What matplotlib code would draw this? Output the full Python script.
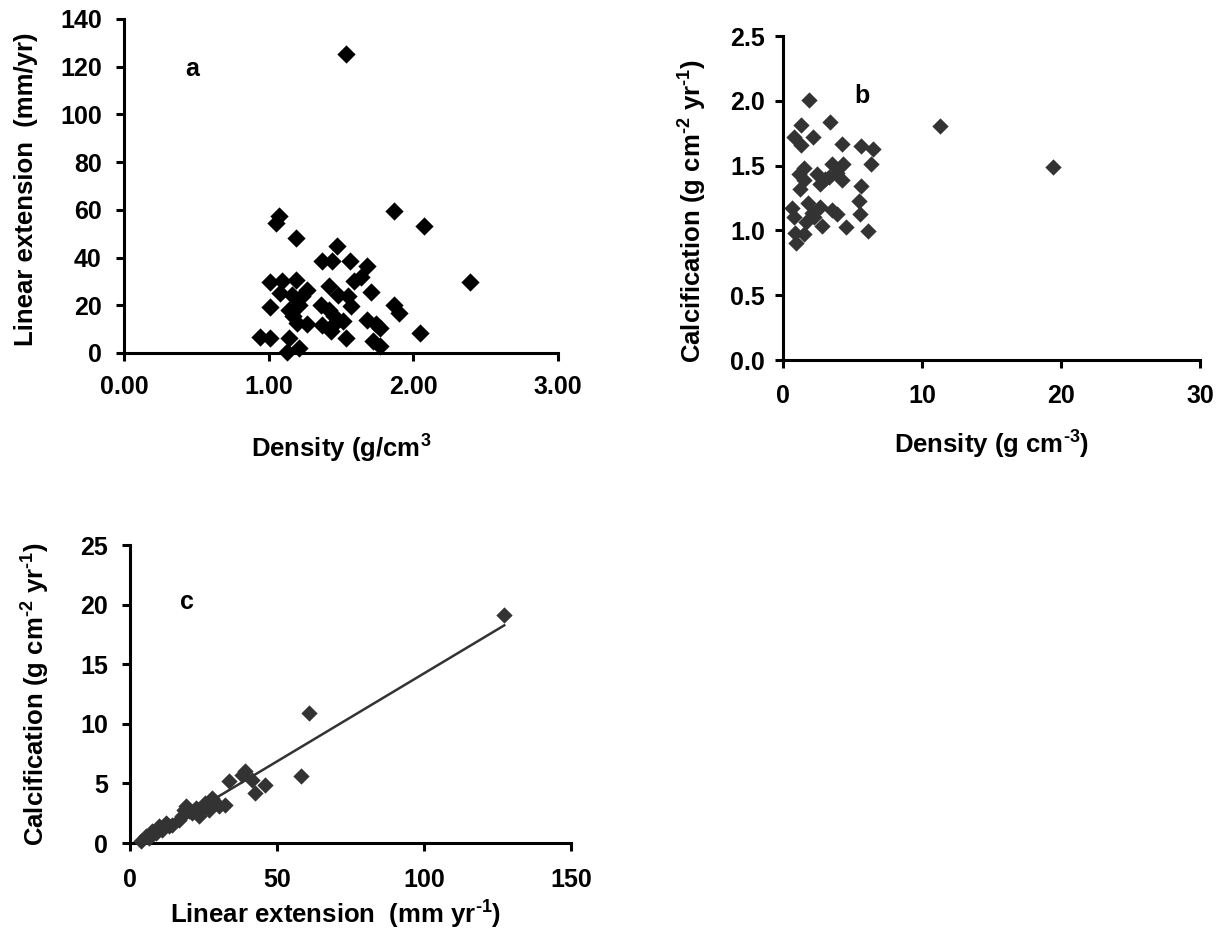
import numpy as np
import matplotlib
matplotlib.use("Agg")
import matplotlib.pyplot as plt

plt.rcParams['font.family'] = ['Liberation Sans', 'DejaVu Sans']
plt.rcParams['font.weight'] = 'bold'
plt.rcParams['mathtext.fontset'] = 'custom'
plt.rcParams['mathtext.rm'] = 'Liberation Sans:bold'
plt.rcParams['mathtext.it'] = 'Liberation Sans:bold'
plt.rcParams['mathtext.bf'] = 'Liberation Sans:bold'
plt.rcParams['mathtext.default'] = 'regular'

# ---- Panel a: density vs linear extension ----
a_density = [1.535, 1.07, 1.054, 1.186, 1.867, 2.074, 1.472, 1.372, 1.435, 1.565,
             1.679, 2.395, 1.008, 1.093, 1.186, 1.267, 1.08, 1.163, 1.233, 1.418,
             1.477, 1.547, 1.593, 1.64, 1.708, 1.008, 1.141, 1.21, 1.36, 1.418,
             1.57, 1.867, 1.9, 1.193, 1.263, 1.372, 1.442, 1.512, 1.682, 1.745,
             1.768, 0.942, 1.008, 1.141, 1.43, 1.535, 2.046, 1.721, 1.768, 1.21,
             1.124, 1.454, 1.17]
a_extension = [125.5, 57.3, 54.3, 48.3, 59.4, 53.4, 44.8, 38.7, 38.7, 38.5,
               36.6, 29.8, 29.8, 30.0, 30.8, 26.6, 25.2, 24.5, 23.8, 28.0,
               24.5, 23.8, 30.0, 32.0, 25.5, 19.3, 18.2, 20.3, 20.3, 18.2,
               19.9, 20.3, 16.8, 12.6, 12.3, 11.9, 11.9, 13.3, 14.0, 12.3,
               10.5, 6.7, 6.3, 6.3, 9.1, 6.3, 8.4, 4.9, 2.8, 2.1,
               0.3, 15.4, 15.4]

# ---- Panel b: density vs calcification ----
b_density = [1.9, 11.33, 19.44, 1.3, 3.4, 0.82, 2.16, 1.3, 4.25, 5.6,
             6.48, 6.34, 1.49, 3.53, 4.32, 1.13, 2.45, 3.05, 3.89, 4.25,
             1.49, 2.69, 1.2, 5.6, 5.44, 1.78, 2.69, 3.53, 3.89, 0.65,
             0.77, 2.09, 1.68, 2.81, 4.56, 5.52, 6.1, 0.89, 1.49, 0.96,
             2.2, 3.29]
b_calcification = [2.005, 1.805, 1.486, 1.81, 1.84, 1.72, 1.72, 1.66, 1.666, 1.65,
                   1.63, 1.51, 1.48, 1.51, 1.51, 1.434, 1.434, 1.40, 1.44, 1.39,
                   1.39, 1.36, 1.32, 1.345, 1.23, 1.21, 1.18, 1.16, 1.13, 1.17,
                   1.10, 1.136, 1.067, 1.033, 1.028, 1.126, 0.997, 0.977, 0.972, 0.905,
                   1.105, 1.414]

# ---- Panel c: linear extension vs calcification ----
c_extension = [127.3, 61.0, 58.2, 39.2, 41.5, 46.0, 42.6, 33.6, 32.4, 27.9,
               25.6, 23.4, 18.9, 21.1, 30.2, 16.6, 12.1, 9.8, 7.6, 5.3,
               3.6, 14.4, 8.7, 26.8, 24.5, 29.0, 20.0, 17.7, 13.2, 11.0,
               6.4, 22.3, 18.3, 38.1]
c_calcification = [19.1, 10.9, 5.59, 6.0, 5.3, 4.9, 4.2, 5.17, 3.2, 3.77,
                   3.35, 2.23, 3.07, 2.5, 3.07, 1.96, 1.68, 1.4, 0.98, 0.56,
                   0.14, 1.54, 0.84, 2.79, 2.8, 3.35, 2.65, 2.23, 1.4, 1.12,
                   0.42, 2.93, 2.8, 5.7]

a_xticks = [0, 1, 2, 3]
a_xticklabels = ['0.00', '1.00', '2.00', '3.00']
a_yticks = [0, 20, 40, 60, 80, 100, 120, 140]
b_xticks = [0, 10, 20, 30]
b_yticks = [0.0, 0.5, 1.0, 1.5, 2.0, 2.5]
b_yticklabels = ['0.0', '0.5', '1.0', '1.5', '2.0', '2.5']
c_xticks = [0, 50, 100, 150]
c_yticks = [0, 5, 10, 15, 20, 25]

W, H = 1223, 946
fig = plt.figure(figsize=(W / 100, H / 100), dpi=100)


def px_axes(x0, x1, ytop, ybot):
    return fig.add_axes([x0 / W, 1 - ybot / H, (x1 - x0) / W, (ybot - ytop) / H])


TICK_FS = 18
LABEL_FS = 18.5


def style(ax, xpad, ypad):
    for s in ('top', 'right'):
        ax.spines[s].set_visible(False)
    for s in ('left', 'bottom'):
        ax.spines[s].set_linewidth(2.2)
        ax.spines[s].set_color('black')
    ax.tick_params(axis='both', direction='out', length=6, width=2.2, labelsize=TICK_FS, colors='black')
    ax.tick_params(axis='x', pad=xpad)
    ax.tick_params(axis='y', pad=ypad)
    for lab in ax.get_xticklabels() + ax.get_yticklabels():
        lab.set_fontweight('bold')


SUP_M2 = r'$^{\text{-}2}$'
SUP_M1 = r'$^{\text{-}1}$'
SUP_M3 = r'$^{\text{-}3}$'

# Panel a
axa = px_axes(124, 558, 19, 353)
axa.scatter(a_density, a_extension, marker='D', s=9.3 ** 2, color='black', linewidths=0, zorder=3, clip_on=False)
axa.set_xlim(0, 3)
axa.set_ylim(0, 140)
axa.set_xticks(a_xticks)
axa.set_xticklabels(a_xticklabels)
axa.set_yticks(a_yticks)
style(axa, 10, 10)
axa.set_xlabel('Density (g/cm$^{3}$', fontsize=LABEL_FS, fontweight='bold', labelpad=24)
axa.set_ylabel('Linear extension  (mm/yr)', fontsize=LABEL_FS, fontweight='bold', labelpad=16)
axa.yaxis.label.set_y(0.49)
axa.text(0.47, 119, 'a', fontsize=18, fontweight='bold', ha='center', va='center')

# Panel b
axb = px_axes(783, 1200, 36, 360)
axb.scatter(b_density, b_calcification, marker='D', s=8.3 ** 2, color='#333333', linewidths=0, zorder=3)
axb.set_xlim(0, 30)
axb.set_ylim(0, 2.5)
axb.set_xticks(b_xticks)
axb.set_yticks(b_yticks)
axb.set_yticklabels(b_yticklabels)
style(axb, 11, 7)
axb.set_xlabel('Density (g cm' + SUP_M3 + ')', fontsize=LABEL_FS, fontweight='bold', labelpad=15)
axb.set_ylabel('Calcification (g cm' + SUP_M2 + ' yr' + SUP_M1 + ')', fontsize=LABEL_FS, fontweight='bold', labelpad=15)
axb.yaxis.label.set_y(0.46)
axb.text(5.7, 2.04, 'b', fontsize=18, fontweight='bold', ha='center', va='center')

# Panel c
axc = px_axes(130, 571, 545, 843)
axc.scatter(c_extension, c_calcification, marker='D', s=8.3 ** 2, color='#333333', linewidths=0, zorder=3, clip_on=False)
slope, intercept = np.polyfit(c_extension, c_calcification, 1)
xfit = np.array([min(c_extension), max(c_extension)])
axc.plot(xfit, slope * xfit + intercept, color='#333333', linewidth=1.8, zorder=2)
axc.set_xlim(0, 150)
axc.set_ylim(0, 25)
axc.set_xticks(c_xticks)
axc.set_yticks(c_yticks)
style(axc, 12, 10)
axc.set_xlabel('Linear extension  (mm yr' + SUP_M1 + ')', fontsize=LABEL_FS, fontweight='bold', labelpad=5)
axc.xaxis.label.set_x(0.465)
axc.set_ylabel('Calcification (g cm' + SUP_M2 + ' yr' + SUP_M1 + ')', fontsize=LABEL_FS, fontweight='bold', labelpad=20)
axc.text(19.4, 20.2, 'c', fontsize=18, fontweight='bold', ha='center', va='center')

fig.savefig('out.png', dpi=100, facecolor='white')
